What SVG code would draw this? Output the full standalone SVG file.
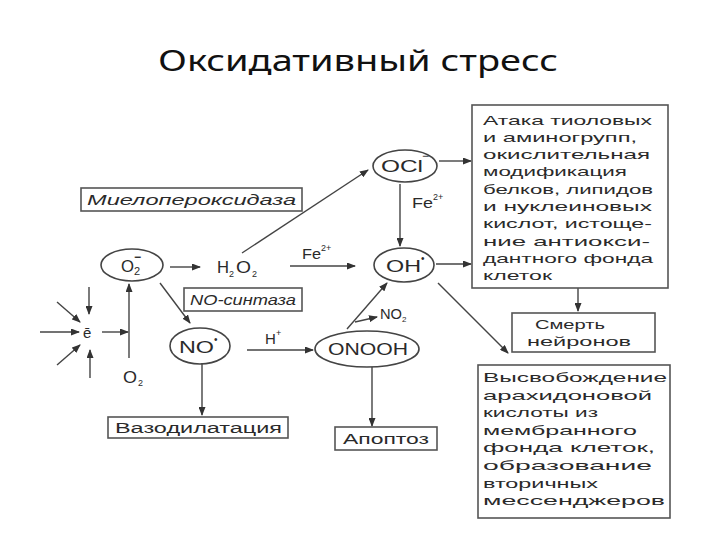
<svg xmlns="http://www.w3.org/2000/svg" width="720" height="540" viewBox="0 0 720 540">
<defs>
<marker id="ah" markerWidth="9" markerHeight="7" refX="8" refY="3.5" orient="auto" markerUnits="userSpaceOnUse">
<path d="M0,0 L9,3.5 L0,7 z" fill="#333"/>
</marker>
<style>
.t{font-family:"Liberation Sans",Arial,sans-serif;fill:#2a2a2a}
.it{font-style:italic}
.box{fill:#fff;stroke:#555;stroke-width:1.6}
.el{fill:none;stroke:#444;stroke-width:1.6}
.c line{stroke:#444;stroke-width:1.4;marker-end:url(#ah)}
.title{font-family:"Noto Sans","Open Sans",sans-serif;font-size:29px;fill:#111}
</style>
</defs>
<rect width="720" height="540" fill="#fff"/>
<text class="title" x="158" y="71" textLength="400" lengthAdjust="spacingAndGlyphs">Оксидативный стресс</text>

<g id="connectors" class="c">
<line x1="242" y1="253" x2="368" y2="170"/>
<line x1="170" y1="267" x2="200" y2="267"/>
<line x1="290" y1="266" x2="355" y2="266"/>
<line x1="439" y1="161" x2="471" y2="161"/>
<line x1="400" y1="184" x2="400" y2="246"/>
<line x1="436" y1="264" x2="471" y2="264"/>
<line x1="438" y1="283" x2="508" y2="353"/>
<line x1="578" y1="288" x2="578" y2="311"/>
<line x1="160" y1="283" x2="190" y2="323"/>
<line x1="89" y1="287" x2="89" y2="314"/>
<line x1="40" y1="332" x2="79" y2="332"/>
<line x1="57" y1="302" x2="80" y2="322"/>
<line x1="57" y1="365" x2="80" y2="345"/>
<line x1="90" y1="378" x2="90" y2="350"/>
<line x1="102" y1="332" x2="128" y2="332"/>
<line x1="129" y1="358" x2="129" y2="284"/>
<line x1="202" y1="363" x2="202" y2="415"/>
<line x1="247" y1="350" x2="313" y2="350"/>
<line x1="347" y1="329" x2="387" y2="283"/>
<line x1="355" y1="322" x2="377" y2="317"/>
<line x1="372" y1="367" x2="372" y2="426"/>
</g>

<g id="labels">
<text class="t" x="302" y="259" font-size="15" textLength="19" lengthAdjust="spacingAndGlyphs">Fe</text>
<text class="t" x="321" y="251" font-size="9">2+</text>
<text class="t" x="412" y="208" font-size="15" textLength="21" lengthAdjust="spacingAndGlyphs">Fe</text>
<text class="t" x="433" y="200" font-size="9">2+</text>
<text class="t" x="265" y="344" font-size="15">H</text>
<text class="t" x="276" y="336" font-size="9">+</text>
<text class="t" x="380" y="319" font-size="15" textLength="22" lengthAdjust="spacingAndGlyphs">NO</text>
<text class="t" x="402" y="322" font-size="8">2</text>
<text class="t" x="83" y="338" font-size="15">ē</text>
<text class="t" x="123" y="383" font-size="16" textLength="14" lengthAdjust="spacingAndGlyphs">O</text>
<text class="t" x="138" y="386" font-size="9">2</text>
<text class="t" x="217" y="273" font-size="16" textLength="12" lengthAdjust="spacingAndGlyphs">H</text>
<text class="t" x="229" y="277" font-size="9">2</text>
<text class="t" x="236" y="273" font-size="16" textLength="15" lengthAdjust="spacingAndGlyphs">O</text>
<text class="t" x="252" y="277" font-size="9">2</text>
</g>

<g id="myeloperoxidase">
<rect class="box" x="81" y="188" width="221" height="23"/>
<text class="t it" x="87" y="205" font-size="14" textLength="209" lengthAdjust="spacingAndGlyphs">Миелопероксидаза</text>
</g>
<g id="no-synthase">
<rect class="box" x="184" y="288" width="118" height="23"/>
<text class="t it" x="190" y="305" font-size="14" textLength="106" lengthAdjust="spacingAndGlyphs">NO-синтаза</text>
</g>
<g id="superoxide">
<ellipse class="el" cx="132" cy="265" rx="31" ry="16"/>
<text class="t" x="121" y="272" font-size="17" textLength="13" lengthAdjust="spacingAndGlyphs">O</text>
<text class="t" x="134" y="275" font-size="11">2</text>
<text class="t" x="134" y="261" font-size="12" font-weight="bold">−</text>
</g>
<g id="ocl">
<ellipse class="el" cx="405" cy="166" rx="32" ry="16"/>
<text class="t" x="381" y="172" font-size="17" textLength="42" lengthAdjust="spacingAndGlyphs">OCl</text>
<text class="t" x="422" y="160" font-size="12">−</text>
</g>
<g id="oh">
<ellipse class="el" cx="404" cy="265" rx="30" ry="17"/>
<text class="t" x="386" y="272" font-size="17" textLength="35" lengthAdjust="spacingAndGlyphs">OH</text>
<text class="t" x="421" y="262" font-size="10">•</text>
</g>
<g id="no">
<ellipse class="el" cx="200" cy="346" rx="30" ry="18"/>
<text class="t" x="179" y="353" font-size="17" textLength="35" lengthAdjust="spacingAndGlyphs">NO</text>
<text class="t" x="214" y="343" font-size="10">•</text>
</g>
<g id="onooh">
<ellipse class="el" cx="367" cy="349" rx="52" ry="18"/>
<text class="t" x="328" y="355" font-size="16" textLength="80" lengthAdjust="spacingAndGlyphs">ONOOH</text>
</g>
<g id="vasodilation">
<rect class="box" x="108" y="417" width="180" height="21"/>
<text class="t" x="115" y="433" font-size="14" textLength="167" lengthAdjust="spacingAndGlyphs">Вазодилатация</text>
</g>
<g id="apoptosis">
<rect class="box" x="335" y="427" width="102" height="23"/>
<text class="t" x="343" y="444" font-size="14" textLength="86" lengthAdjust="spacingAndGlyphs">Апоптоз</text>
</g>
<g id="attack">
<rect class="box" x="472" y="105" width="196" height="183"/>
<g class="t" font-size="13">
<text x="483" y="124.5" textLength="169" lengthAdjust="spacingAndGlyphs">Атака тиоловых</text>
<text x="483" y="141.8" textLength="154" lengthAdjust="spacingAndGlyphs">и аминогрупп,</text>
<text x="483" y="159.1" textLength="167" lengthAdjust="spacingAndGlyphs">окислительная</text>
<text x="483" y="176.4" textLength="144" lengthAdjust="spacingAndGlyphs">модификация</text>
<text x="483" y="193.7" textLength="170" lengthAdjust="spacingAndGlyphs">белков, липидов</text>
<text x="483" y="211" textLength="169" lengthAdjust="spacingAndGlyphs">и нуклеиновых</text>
<text x="483" y="228.3" textLength="169" lengthAdjust="spacingAndGlyphs">кислот, истоще-</text>
<text x="483" y="245.6" textLength="167" lengthAdjust="spacingAndGlyphs">ние антиокси-</text>
<text x="483" y="262.9" textLength="170" lengthAdjust="spacingAndGlyphs">дантного фонда</text>
<text x="483" y="280.2" textLength="69" lengthAdjust="spacingAndGlyphs">клеток</text>
</g>
</g>
<g id="neuron-death">
<rect class="box" x="512" y="313" width="143" height="39"/>
<text class="t" x="535" y="329" font-size="13" textLength="70" lengthAdjust="spacingAndGlyphs">Смерть</text>
<text class="t" x="527" y="346" font-size="13" textLength="104" lengthAdjust="spacingAndGlyphs">нейронов</text>
</g>
<g id="arachidonic">
<rect class="box" x="478" y="365" width="192" height="153"/>
<g class="t" font-size="13">
<text x="483" y="382" textLength="184" lengthAdjust="spacingAndGlyphs">Высвобождение</text>
<text x="483" y="399.6" textLength="169" lengthAdjust="spacingAndGlyphs">арахидоновой</text>
<text x="483" y="417.2" textLength="115" lengthAdjust="spacingAndGlyphs">кислоты из</text>
<text x="483" y="434.8" textLength="154" lengthAdjust="spacingAndGlyphs">мембранного</text>
<text x="483" y="452.4" textLength="172" lengthAdjust="spacingAndGlyphs">фонда  клеток,</text>
<text x="483" y="470" textLength="169" lengthAdjust="spacingAndGlyphs">образование</text>
<text x="483" y="487.6" textLength="115" lengthAdjust="spacingAndGlyphs">вторичных</text>
<text x="483" y="505.2" textLength="182" lengthAdjust="spacingAndGlyphs">мессенджеров</text>
</g>
</g>
</svg>
